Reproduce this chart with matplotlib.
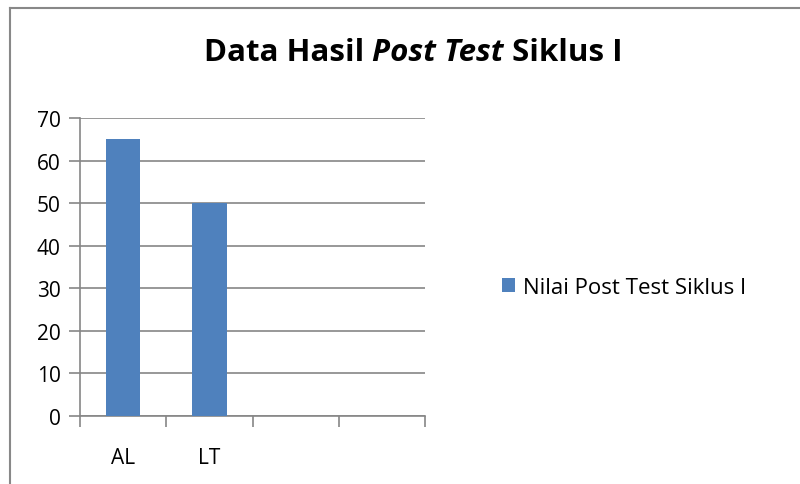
import matplotlib
matplotlib.use("Agg")
import matplotlib.pyplot as plt
from matplotlib.lines import Line2D

# data
categories = ["AL", "LT", "", ""]
values = [65, 50, None, None]
series_name = "Nilai Post Test Siklus I"
yticks = [0, 10, 20, 30, 40, 50, 60, 70]

plt.rcParams['font.family'] = ['Open Sans', 'DejaVu Sans']

W, H = 800, 485
fig = plt.figure(figsize=(W / 100, H / 100), dpi=100)

# plot area in pixels: x 80..425, y 119..417
ax = fig.add_axes([80 / W, 1 - 417 / H, (425 - 80) / W, (417 - 119) / H])

xs = list(range(len(categories)))
bx = [x for x, v in zip(xs, values) if v is not None]
bv = [v for v in values if v is not None]
ax.bar(bx, bv, width=0.4, color="#4F81BD", zorder=3, label=series_name)

ax.set_xlim(-0.5, len(categories) - 0.5)
ax.set_ylim(0, 70)
ax.set_yticks(yticks)
ax.yaxis.grid(True, color="#868686", linewidth=1.2, zorder=0)
ax.tick_params(axis="y", length=8, width=1.2, color="#868686", labelsize=15, pad=6)

# category labels without ticks, boundary ticks between categories
ax.set_xticks(xs)
ax.set_xticklabels(categories)
ax.tick_params(axis="x", length=0, labelsize=15, pad=22)
ax.set_xticks([x - 0.5 for x in range(len(categories) + 1)], minor=True)
ax.tick_params(axis="x", which="minor", length=8, width=1.2, color="#868686")

for side in ["top", "right"]:
    ax.spines[side].set_visible(False)
for side in ["left", "bottom"]:
    ax.spines[side].set_color("#868686")
    ax.spines[side].set_linewidth(1.2)

# title with italic part
title_y = 1 - 53 / H
parts = [("Data Hasil ", "normal"), ("Post Test", "italic"), (" Siklus I", "normal")]
renderer = fig.canvas.get_renderer()
texts = []
for s, st in parts:
    t = fig.text(0, title_y, s, fontsize=22.5, fontweight="bold", style=st, va="center")
    texts.append(t)
widths = [t.get_window_extent(renderer).width for t in texts]
x0 = 413 - sum(widths) / 2
for t, w in zip(texts, widths):
    t.set_x(x0 / W)
    x0 += w

ax.legend(loc="center left", bbox_to_anchor=(482 / W, 1 - 288 / H), bbox_transform=fig.transFigure,
          frameon=False, fontsize=16, handlelength=0.6, handleheight=0.6, handletextpad=0.35)

# chart border (top and left visible)
fig.add_artist(Line2D([10 / W, 10 / W], [0, 1 - 9 / H], transform=fig.transFigure, color="#888888", lw=1.5))
fig.add_artist(Line2D([10 / W, 1], [1 - 9 / H, 1 - 9 / H], transform=fig.transFigure, color="#888888", lw=1.5))

fig.savefig("out.png", dpi=100)
